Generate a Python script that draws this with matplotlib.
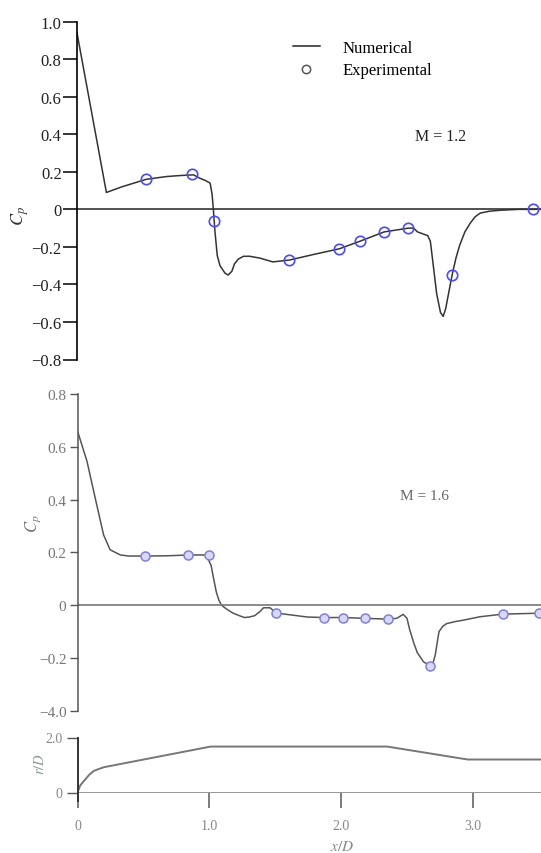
import numpy as np
import matplotlib
matplotlib.use("Agg")
import matplotlib.pyplot as plt
from matplotlib.lines import Line2D

plt.rcParams['font.family'] = ['Liberation Serif', 'DejaVu Serif']
plt.rcParams['mathtext.fontset'] = 'stix'

# M = 1.2 : numerical Cp
x_num_12 = [0, 0.223, 0.340, 0.524, 0.680, 0.777, 0.884, 0.932, 0.971, 1.010, 1.025, 1.034, 1.047,
            1.064, 1.085, 1.123, 1.146, 1.175, 1.195, 1.224, 1.263, 1.311, 1.389, 1.486, 1.612,
            1.797, 1.991, 2.146, 2.331, 2.515, 2.554, 2.583, 2.622, 2.661, 2.681, 2.700, 2.729, 2.758,
            2.778, 2.797, 2.816, 2.846, 2.875, 2.904, 2.943, 2.982, 3.020, 3.059, 3.127, 3.205, 3.351, 3.55]
cp_num_12 = [0.94, 0.09, 0.12, 0.16, 0.175, 0.18, 0.184, 0.166, 0.155, 0.14, 0.08, 0.005, -0.12,
             -0.245, -0.30, -0.34, -0.35, -0.33, -0.29, -0.265, -0.25, -0.25, -0.26, -0.28, -0.27,
             -0.24, -0.21, -0.17, -0.12, -0.10, -0.10, -0.12, -0.13, -0.14, -0.17, -0.28, -0.45, -0.55,
             -0.57, -0.53, -0.46, -0.35, -0.26, -0.19, -0.12, -0.075, -0.04, -0.02, -0.01, -0.005, 0, 0]
# M = 1.2 : experimental Cp
x_exp_12 = [0.524, 0.874, 1.039, 1.612, 1.991, 2.146, 2.331, 2.515, 2.846, 3.458]
cp_exp_12 = [0.16, 0.19, -0.06, -0.27, -0.21, -0.17, -0.12, -0.10, -0.35, 0.0]

# M = 1.6 : numerical Cp
x_num_16 = [0, 0.072, 0.146, 0.198, 0.247, 0.325, 0.392, 0.509, 0.684, 0.839, 0.927, 0.975, 0.995,
            1.014, 1.033, 1.053, 1.072, 1.092, 1.131, 1.179, 1.228, 1.267, 1.305, 1.344, 1.383, 1.412,
            1.461, 1.509, 1.587, 1.742, 1.869, 2.014, 2.180, 2.354, 2.422, 2.471, 2.500, 2.519, 2.549,
            2.578, 2.626, 2.675, 2.694, 2.714, 2.733, 2.743, 2.772, 2.801, 2.869, 2.927, 3.054, 3.228, 3.55]
cp_num_16 = [0.66, 0.545, 0.38, 0.266, 0.21, 0.19, 0.186, 0.186, 0.187, 0.19, 0.19, 0.19, 0.17,
             0.15, 0.10, 0.05, 0.02, 0.0, -0.015, -0.03, -0.04, -0.047, -0.045, -0.04, -0.025, -0.01,
             -0.01, -0.03, -0.035, -0.045, -0.047, -0.047, -0.05, -0.053, -0.05, -0.035, -0.05, -0.09, -0.14,
             -0.18, -0.215, -0.23, -0.225, -0.19, -0.13, -0.10, -0.08, -0.07, -0.062, -0.057, -0.044, -0.034, -0.03]
# M = 1.6 : experimental Cp
x_exp_16 = [0.509, 0.839, 0.995, 1.509, 1.869, 2.014, 2.180, 2.354, 2.675, 3.228, 3.500]
cp_exp_16 = [0.186, 0.19, 0.19, -0.03, -0.047, -0.047, -0.05, -0.053, -0.23, -0.034, -0.03]

# body profile r/D
x_body = [0, 0.02, 0.047, 0.09, 0.125, 0.20, 1.01, 2.35, 2.96, 3.6]
r_body = [0, 0.25, 0.41, 0.65, 0.79, 0.92, 1.67, 1.67, 1.20, 1.20]

XMAX = (541 - 77) / 131.8

fig = plt.figure(figsize=(5.41, 8.54), dpi=100)

# ---- top panel (M = 1.2)
ax1 = fig.add_axes([77 / 541, 1 - 360.5 / 854, 1 - 77 / 541, 337.8 / 854])
ax1.plot(x_num_12, cp_num_12, color='#333333', lw=1.1)
ax1.axhline(0, color='#333333', lw=1.2)
ax1.plot(x_exp_12, cp_exp_12, 'o', mfc='none', mec='#4a4aff', ms=7.5, mew=1.2)
ax1.set_xlim(0, XMAX)
ax1.set_ylim(-0.8, 1.0)
ax1.set_yticks([1.0, 0.8, 0.6, 0.4, 0.2, 0, -0.2, -0.4, -0.6, -0.8])
ax1.set_yticklabels(['1.0', '0.8', '0.6', '0.4', '0.2', '0', '\u22120.2', '\u22120.4', '\u22120.6', '\u22120.8'])
ax1.set_xticks([])
for s in ['top', 'right', 'bottom']:
    ax1.spines[s].set_visible(False)
ax1.spines['left'].set_linewidth(1.2)
ax1.tick_params(axis='y', length=10, width=1.1, labelsize=12, labelcolor='#222222', pad=1)
fig.text(441 / 541, 1 - 137 / 854, 'M = 1.2', ha='center', va='center',
         fontsize=11.5, color='#222222')
fig.text(20 / 541, 1 - 216 / 854, r'$C_p$', rotation=90, ha='center', va='center',
         fontsize=13, color='#333333')

handles = [Line2D([], [], color='#222222', lw=1.1),
           Line2D([], [], ls='none', marker='o', mfc='none', mec='#555555', ms=6, mew=1.1)]
ax1.legend(handles, ['Numerical', 'Experimental'], loc='upper left',
           bbox_to_anchor=(293 / 541, 1 - 41 / 854), bbox_transform=fig.transFigure,
           frameon=False, fontsize=12, handlelength=1.6, handletextpad=1.4,
           labelspacing=0.38, borderpad=0, borderaxespad=0)

# ---- middle panel (M = 1.6)
ax2 = fig.add_axes([77.5 / 541, 1 - 711.7 / 854, 1 - 77.5 / 541, 316.7 / 854])
ax2.plot(x_num_16, cp_num_16, color='#555555', lw=1.1)
ax2.axhline(0, color='#777777', lw=1.2)
ax2.plot(x_exp_16, cp_exp_16, 'o', mfc='#d8d8f4', mec='#8080d8', ms=6.5, mew=1.1)
ax2.set_xlim(0, (541 - 77.5) / 131.8)
ax2.set_ylim(-0.4, 0.8)
ax2.set_yticks([0.8, 0.6, 0.4, 0.2, 0, -0.2, -0.4])
ax2.set_yticklabels(['0.8', '0.6', '0.4', '0.2', '0', '\u22120.2', '\u22124.0'])
ax2.set_xticks([])
for s in ['top', 'right', 'bottom']:
    ax2.spines[s].set_visible(False)
ax2.spines['left'].set_color('#555555')
ax2.spines['left'].set_linewidth(1.1)
ax2.tick_params(axis='y', length=6, width=1.0, color='#555555', labelsize=11,
                labelcolor='#777777', pad=2)
fig.text(425 / 541, 1 - 497 / 854, 'M = 1.6', ha='center', va='center',
         fontsize=11, color='#666666')
fig.text(33 / 541, 1 - 524 / 854, r'$C_p$', rotation=90, ha='center', va='center',
         fontsize=12, color='#777777')

# ---- bottom panel (body shape)
ax3 = fig.add_axes([77.5 / 541, 1 - 793.5 / 854, 1 - 77.5 / 541, 55 / 854])
ax3.plot(x_body, r_body, color='#777777', lw=1.4)
ax3.axhline(0, color='#777777', lw=1.8)
ax3.set_xlim(0, (541 - 77.5) / 131.8)
ax3.set_ylim(0, 2.0)
ax3.set_yticks([0, 2.0])
ax3.set_yticklabels(['0', '2.0'])
ax3.set_xticks([0, 1.0, 2.0, 3.0])
ax3.set_xticklabels(['0', '1.0', '2.0', '3.0'])
for s in ['top', 'right', 'bottom']:
    ax3.spines[s].set_visible(False)
ax3.spines['left'].set_color('#333333')
ax3.spines['left'].set_linewidth(1.4)
ax3.spines['left'].set_bounds(-0.3, 2.0)
ax3.tick_params(axis='y', length=8, width=1.0, color='#555555', labelsize=10,
                labelcolor='#888888', pad=3)
ax3.tick_params(axis='x', length=11, width=1.2, color='#666666', labelsize=10,
                labelcolor='#888888', pad=8)
fig.text(40 / 541, 1 - 764 / 854, r'$r/D$', rotation=90, ha='center', va='center',
         fontsize=10.5, color='#889999')
fig.text(342 / 541, 1 - 847 / 854, r'$x/D$', ha='center', va='center',
         fontsize=11, color='#888888')

fig.savefig('out.png', dpi=100)
